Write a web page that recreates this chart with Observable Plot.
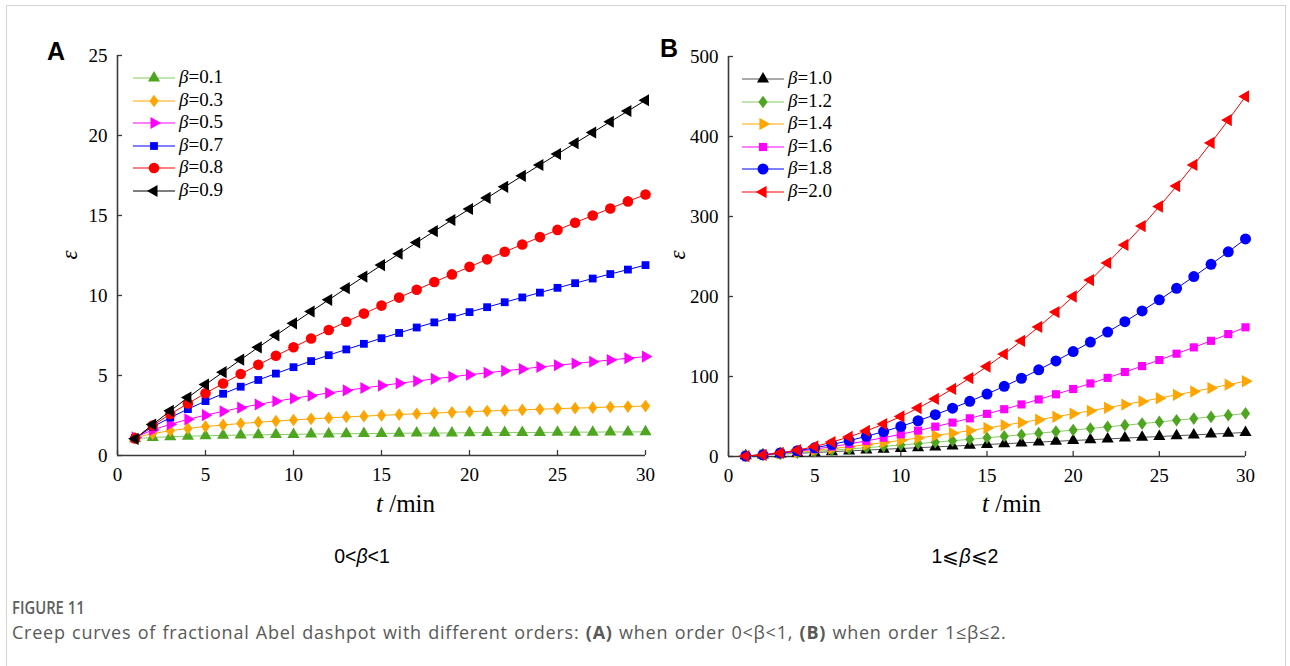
<!DOCTYPE html>
<html><head><meta charset="utf-8">
<script src="https://cdn.jsdelivr.net/npm/d3@7"></script>
<script src="https://cdn.jsdelivr.net/npm/@observablehq/plot@0.6"></script>
<style>
body{margin:0;background:#fff;}
#page{position:relative;width:1290px;height:666px;overflow:hidden;background:#fff;}
#border{position:absolute;left:6px;top:5px;width:1278px;height:720px;border:1px solid #d4d4d4;}
.panel{position:absolute;top:0;}
.letter{position:absolute;font-family:"Liberation Sans",Arial,sans-serif;font-weight:bold;font-size:25px;color:#000;}
.legend{position:absolute;font-family:"Liberation Serif",serif;font-size:19px;color:#000;}
.legend .row{position:absolute;left:0;height:22px;width:140px;}
.legend .row svg{position:absolute;left:0;top:0;}
.legend .row span{position:absolute;left:46px;top:-1px;line-height:22px;white-space:nowrap;}
.sub{position:absolute;top:545px;font-family:"Liberation Sans",Arial,sans-serif;font-size:19.5px;color:#000;transform:translateX(-50%);white-space:nowrap;}
#fig{position:absolute;left:12px;top:594px;font-family:"Open Sans",sans-serif;font-size:18.5px;color:#606060;font-weight:600;transform:scaleX(0.8);transform-origin:0 0;}
#cap{position:absolute;left:12px;top:620px;font-family:"Open Sans",sans-serif;font-size:18px;letter-spacing:0.75px;word-spacing:1px;color:#595959;white-space:nowrap;}
</style></head>
<body><div id="page"><div id="border"></div></div>
<script>
// ---------- data ----------
const tMin = [1,2,3,4,5,6,7,8,9,10,11,12,13,14,15,16,17,18,19,20,21,22,23,24,25,26,27,28,29,30];
const xTicks = [0,5,10,15,20,25,30];
const yTicksA = [0,5,10,15,20,25];
const yTicksB = [0,100,200,300,400,500];

const betaA = ["0.1","0.3","0.5","0.7","0.8","0.9"];
const epsA_01 = [1.05,1.13,1.17,1.21,1.23,1.26,1.28,1.29,1.31,1.32,1.34,1.35,1.36,1.37,1.38,1.39,1.40,1.40,1.41,1.42,1.43,1.43,1.44,1.44,1.45,1.46,1.46,1.47,1.47,1.48];
const epsA_03 = [1.11,1.37,1.55,1.69,1.81,1.91,2.00,2.08,2.15,2.22,2.29,2.35,2.41,2.46,2.51,2.56,2.61,2.65,2.70,2.74,2.78,2.82,2.85,2.89,2.93,2.96,2.99,3.03,3.06,3.09];
const epsA_05 = [1.13,1.60,1.95,2.26,2.52,2.76,2.99,3.19,3.39,3.57,3.74,3.91,4.07,4.22,4.37,4.51,4.65,4.79,4.92,5.05,5.17,5.29,5.41,5.53,5.64,5.75,5.86,5.97,6.08,6.18];
const epsA_07 = [1.10,1.79,2.37,2.90,3.40,3.86,4.30,4.72,5.12,5.52,5.90,6.27,6.63,6.98,7.33,7.66,8.00,8.32,8.64,8.96,9.27,9.58,9.88,10.18,10.48,10.77,11.06,11.34,11.62,11.90];
const epsA_08 = [1.07,1.87,2.59,3.25,3.89,4.50,5.09,5.67,6.23,6.77,7.31,7.84,8.36,8.87,9.37,9.87,10.36,10.84,11.32,11.79,12.26,12.73,13.19,13.65,14.10,14.55,15.00,15.44,15.88,16.31];
const epsA_09 = [1.04,1.94,2.79,3.62,4.43,5.21,5.99,6.76,7.51,8.26,9.00,9.73,10.46,11.18,11.90,12.61,13.31,14.02,14.72,15.41,16.10,16.79,17.48,18.16,18.84,19.52,20.19,20.86,21.53,22.20];

const betaB = ["1.0","1.2","1.4","1.6","1.8","2.0"];
const epsB_10 = [1,2,3,4,5,6,7,8,9,10,11,12,13,14,15,16,17,18,19,20,21,22,23,24,25,26,27,28,29,30];
const epsB_12 = [0.9,2.1,3.4,4.8,6.3,7.8,9.4,11.0,12.7,14.4,16.1,17.9,19.7,21.5,23.4,25.3,27.2,29.1,31.1,33.0,35.0,37.1,39.1,41.1,43.2,45.3,47.4,49.5,51.6,53.8];
const epsB_14 = [0.8,2.1,3.7,5.6,7.7,9.9,12.3,14.8,17.4,20.2,23.1,26.1,29.2,32.4,35.7,39.0,42.5,46.0,49.7,53.4,57.1,61.0,64.9,68.9,72.9,77.1,81.2,85.5,89.8,94.1];
const epsB_16 = [0.7,2.1,4.1,6.4,9.2,12.3,15.7,19.5,23.5,27.8,32.4,37.3,42.4,47.7,53.3,59.1,65.1,71.3,77.8,84.4,91.3,98.3,105.6,113.0,120.6,128.5,136.4,144.6,153.0,161.5];
const epsB_18 = [0.6,2.1,4.3,7.2,10.8,15.0,19.8,25.2,31.1,37.6,44.7,52.3,60.4,69.0,78.1,87.7,97.8,108.4,119.5,131.1,143.1,155.6,168.5,182.0,195.8,210.2,224.9,240.2,255.8,271.9];
const epsB_20 = [0.5,2,4.5,8,12.5,18,24.5,32,40.5,50,60.5,72,84.5,98,112.5,128,144.5,162,180.5,200,220.5,242,264.5,288,312.5,338,364.5,392,420.5,450];

// ---------- styles ----------
const triRight = {draw(c, size){const y=-Math.sqrt(size/(Math.sqrt(3)*3)); c.moveTo(-2*y,0); c.lineTo(y,-Math.sqrt(3)*y); c.lineTo(y,Math.sqrt(3)*y); c.closePath();}};
const triLeft = {draw(c, size){const y=-Math.sqrt(size/(Math.sqrt(3)*3)); c.moveTo(2*y,0); c.lineTo(-y,-Math.sqrt(3)*y); c.lineTo(-y,Math.sqrt(3)*y); c.closePath();}};
const diamondW = {draw(c, size){const h=Math.sqrt(size/1.44), w=0.72*h; c.moveTo(0,-h); c.lineTo(w,0); c.lineTo(0,h); c.lineTo(-w,0); c.closePath();}};
const GREEN="#4ea520", GREENL="#86cc62", ORANGE="#ffa500", MAG="#ff00ff", BLUE="#0000ff", RED="#ff0000", BLACK="#000000";

const seriesA = [
  {beta:betaA[0], vals:epsA_01, fill:GREEN, line:GREENL, sym:"triangle", r:4.5},
  {beta:betaA[1], vals:epsA_03, fill:ORANGE, line:ORANGE, sym:diamondW, r:4.3},
  {beta:betaA[2], vals:epsA_05, fill:MAG, line:MAG, sym:triRight, r:4.5},
  {beta:betaA[3], vals:epsA_07, fill:BLUE, line:BLUE, sym:"square", r:4.4},
  {beta:betaA[4], vals:epsA_08, fill:RED, line:RED, sym:"circle", r:5.3},
  {beta:betaA[5], vals:epsA_09, fill:BLACK, line:BLACK, sym:triLeft, r:4.5}
];
const seriesB = [
  {beta:betaB[0], vals:epsB_10, fill:BLACK, line:"#555", sym:"triangle", r:4.5},
  {beta:betaB[1], vals:epsB_12, fill:GREEN, line:GREENL, sym:diamondW, r:4.3},
  {beta:betaB[2], vals:epsB_14, fill:ORANGE, line:ORANGE, sym:triRight, r:4.6},
  {beta:betaB[3], vals:epsB_16, fill:MAG, line:MAG, sym:"square", r:4.6},
  {beta:betaB[4], vals:epsB_18, fill:BLUE, line:BLUE, sym:"circle", r:5.5},
  {beta:betaB[5], vals:epsB_20, fill:RED, line:RED, sym:triLeft, r:4.6}
];

function makePanel(series, yDomain, yTicks, cfg){
  const marks = [
    Plot.ruleX([0], {stroke:"#3a3a3a", strokeWidth:1.6}),
    Plot.ruleY([0], {stroke:"#3a3a3a", strokeWidth:1.6}),
    Plot.axisX(xTicks, {tickSize:-5, tickPadding:17, label:null, stroke:"#3a3a3a", strokeWidth:1.3}),
    Plot.axisY(yTicks, {tickSize:-5, tickPadding:15, label:null, stroke:"#3a3a3a", strokeWidth:1.3})
  ];
  for (const s of series){
    const rows = tMin.map((t,i)=>({t, eps:s.vals[i]}));
    marks.push(Plot.line(rows, {x:"t", y:"eps", stroke:s.line, strokeWidth:1}));
    marks.push(Plot.dot(rows, {x:"t", y:"eps", symbol:s.sym, r:s.r, fill:s.fill, stroke:"none"}));
  }
  const svg = Plot.plot({
    width:cfg.width, height:530,
    marginLeft:cfg.ml, marginRight:cfg.mr, marginTop:cfg.mt, marginBottom:530-cfg.y0,
    style:{fontFamily:"'Liberation Serif', serif", fontSize:"19px", color:"#000", background:"transparent", overflow:"visible"},
    x:{domain:[0,30], label:null},
    y:{domain:yDomain, label:null},
    marks
  });
  const g = d3.select(svg);
  g.append("text").attr("transform",`translate(${cfg.epsX},255) rotate(-90)`).attr("text-anchor","middle")
    .style("font-family","'Liberation Serif', serif").style("font-style","italic").style("font-size","23px").text("ε");
  const tl = g.append("text").attr("x",cfg.tx).attr("y",512).attr("text-anchor","start")
    .style("font-family","'Liberation Serif', serif").style("font-size","25px");
  tl.append("tspan").style("font-style","italic").text("t");
  tl.append("tspan").text(" /min");
  return svg;
}

const page = document.getElementById("page");
function place(el, left){ const d=document.createElement("div"); d.className="panel"; d.style.left=left+"px"; d.appendChild(el); page.appendChild(d); }

place(makePanel(seriesA, [0,25], yTicksA, {width:660, ml:117, mr:15, mt:55, y0:455, epsX:77, tx:376}), 0);
place(makePanel(seriesB, [0,500], yTicksB, {width:660, ml:121, mr:22, mt:56, y0:456, epsX:78, tx:375}), 607);

function letter(txt, x, y){ const d=document.createElement("div"); d.className="letter"; d.style.left=x+"px"; d.style.top=y+"px"; d.textContent=txt; page.appendChild(d); }
letter("A", 47, 37); letter("B", 660, 34);

function legend(series, left, top){
  const L=document.createElement("div"); L.className="legend"; L.style.left=left+"px"; L.style.top=top+"px";
  series.forEach((s,i)=>{
    const row=document.createElement("div"); row.className="row"; row.style.top=(i*22.6)+"px";
    const sv=d3.create("svg").attr("width",46).attr("height",22);
    sv.append("line").attr("x1",0).attr("x2",42).attr("y1",11).attr("y2",11).attr("stroke",s.line).attr("stroke-width",1.2);
    const symType = typeof s.sym==="string" ? {triangle:d3.symbolTriangle, square:d3.symbolSquare, circle:d3.symbolCircle}[s.sym] : s.sym;
    sv.append("path").attr("transform","translate(21,11)").attr("d", d3.symbol(symType, Math.PI*s.r*s.r)()).attr("fill",s.fill);
    row.appendChild(sv.node());
    const sp=document.createElement("span"); sp.innerHTML=`<i>β</i>=${s.beta}`; row.appendChild(sp);
    L.appendChild(row);
  });
  page.appendChild(L);
}
legend(seriesA, 133, 67);
legend(seriesB, 742, 68);

function sub(html, x){ const d=document.createElement("div"); d.className="sub"; d.style.left=x+"px"; d.innerHTML=html; page.appendChild(d); }
sub("0&lt;<i>β</i>&lt;1", 362);
sub("1⩽<i>β</i>⩽2", 965);

const fig=document.createElement("div"); fig.id="fig"; fig.textContent="FIGURE 11"; page.appendChild(fig);
const cap=document.createElement("div"); cap.id="cap";
cap.innerHTML="Creep curves of fractional Abel dashpot with different orders: <b>(A)</b> when order 0&lt;β&lt;1, <b>(B)</b> when order 1≤β≤2.";
page.appendChild(cap);
</script></body></html>
